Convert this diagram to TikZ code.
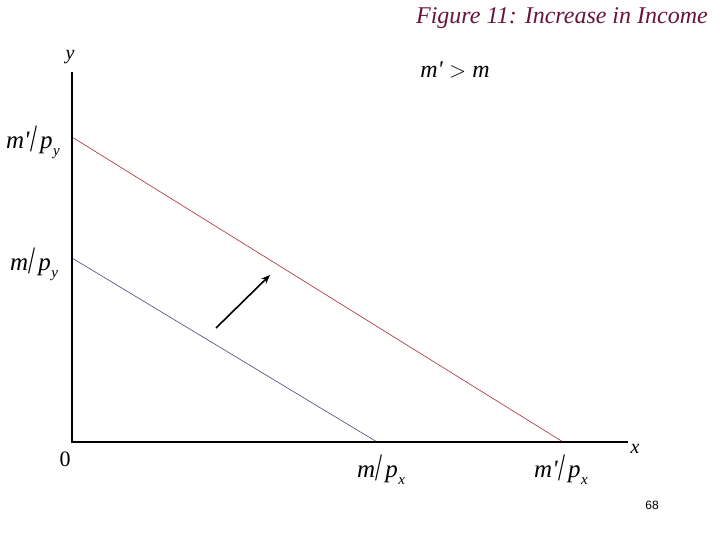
\documentclass[tikz,border=0pt]{standalone}
\usepackage{fontspec}
\setmainfont{Liberation Serif}
\newfontfamily\plainserif{Liberation Serif}
\newfontfamily\pagefont{Liberation Sans}
\usetikzlibrary{arrows.meta}
\definecolor{titlecol}{RGB}{105,20,60}
\definecolor{redline}{RGB}{170,40,50}
\definecolor{blueline}{RGB}{70,70,120}
\newcommand{\pr}{{\plainserif\itshape '}}
\newcommand{\lbl}[2]{\textit{#1}\kern0.03em\raisebox{-0.25ex}{\scalebox{1}[1.55]{/}}\kern0.1em\textit{p}\kern0.02em\raisebox{-0.6ex}{\fontsize{15}{16}\selectfont\textit{#2}}}
\tikzset{
  axis/.style={line width=1.6pt, black},
  budget/.style={line width=0.6pt},
  lab/.style={font=\fontsize{25}{28}\selectfont, inner sep=0pt},
  small/.style={font=\fontsize{20}{24}\selectfont, inner sep=0pt},
}
\begin{document}
\begin{tikzpicture}[x=1pt,y=-1pt]
\useasboundingbox (0,0) rectangle (720,540);
\coordinate (O) at (72,442);
\coordinate (ytop) at (72,72);
\coordinate (xend) at (628,442);
\coordinate (A1) at (72,137);
\coordinate (B1) at (563,442);
\coordinate (A0) at (72,258);
\coordinate (B0) at (377,442);
\coordinate (s) at (216,328);
\coordinate (e) at (270,275);
\draw[budget, redline] (A1) -- (B1);
\draw[budget, blueline] (A0) -- (B0);
\draw[axis] (ytop) -- (O) -- (xend);
\draw[line width=1.6pt, -{Stealth[length=9pt,width=7pt]}] (s) -- (e);
\node[small] (ylab) at (70,57) {\textit{y}};
\node[small] (xlab) at (635,449) {\textit{x}};
\node[small, font=\fontsize{22}{24}\selectfont] (zero) at (65,459) {0};
\node[lab] (mpy1) at (33,142) {\lbl{m\pr}{y}};
\node[lab] (mpy0) at (34,264) {\lbl{m}{y}};
\node[lab] (mpx0) at (381,470) {\lbl{m}{x}};
\node[lab] (mpx1) at (561,470) {\lbl{m\pr}{x}};
\node[small, font=\fontsize{24}{28}\selectfont] (cmp) at (455,70) {\textit{m\pr} {\scalebox{0.9}{$>$}} \textit{m}};
\node[inner sep=0pt, anchor=east, text=titlecol, font=\fontsize{24}{28}\selectfont\itshape] (title) at (708,18) {Figure 11: Increase in Income};
\node[font=\pagefont\fontsize{12}{14}\selectfont] (page) at (652,505) {68};
\end{tikzpicture}
\end{document}
